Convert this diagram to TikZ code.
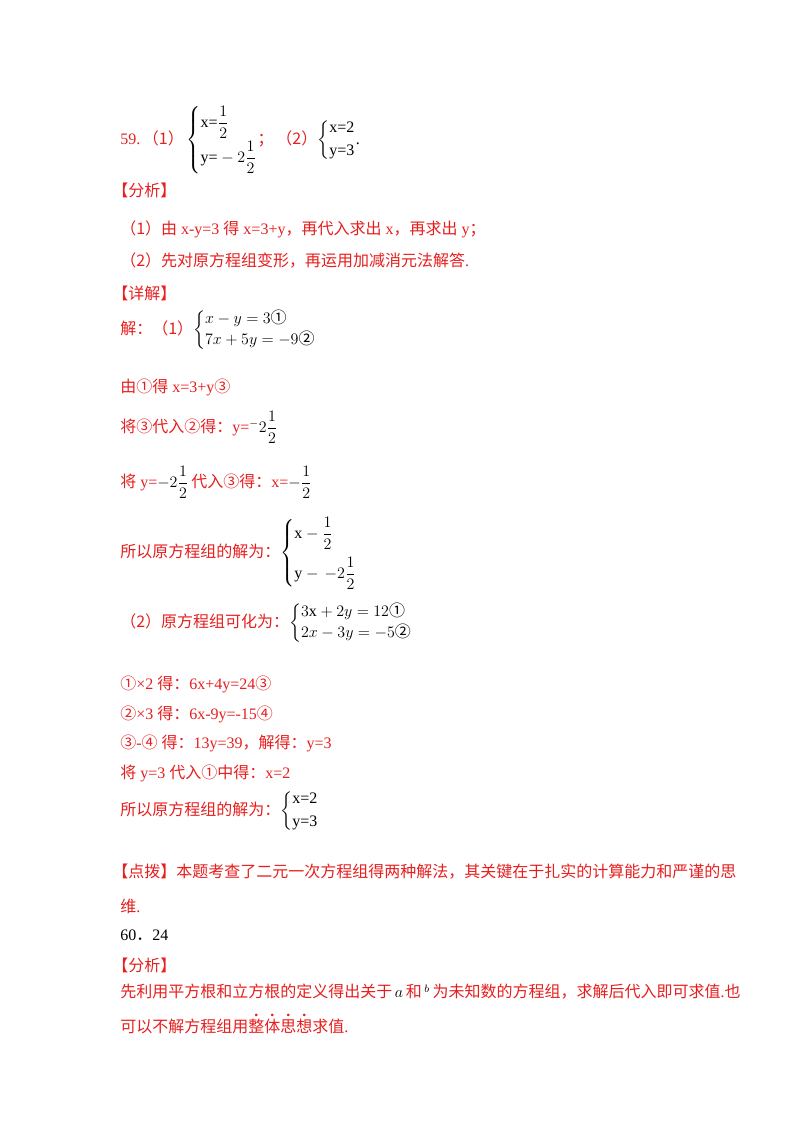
\documentclass[tikz,border=0pt]{standalone}
\usepackage{amsmath}
\usepackage{fontspec}
\setmainfont{Liberation Serif}
\newfontfamily\cjk{Noto Sans CJK SC}
\newcommand\zh[1]{{\cjk #1}}
\newcommand\emdot[1]{\zh{#1}\makebox[0pt][r]{\makebox[1em][c]{\raisebox{0.95em}{\bfseries.}}}}
\definecolor{rd}{RGB}{230,30,30}
\begin{document}
\begin{tikzpicture}[x=0.75pt,y=-0.75pt,
  t/.style={anchor=west,inner sep=0pt,font=\fontsize{12}{14}\selectfont},
  r/.style={t,text=rd}]
\useasboundingbox (0,0) rectangle (800,1132);
\node[t] (q59) at (120,140) {\textcolor{rd}{59.\,\zh{（1）}}\,$\left\{\begin{array}{@{}l@{}}\text{x=}\dfrac{1}{2}\\[6pt] \text{y=}-2\dfrac{1}{2}\end{array}\right.$\textcolor{rd}{\zh{；}}\,\textcolor{rd}{\zh{（2）}}$\left\{\begin{array}{@{}l@{}}\text{x=2}\\[3pt] \text{y=3}\end{array}\right.$.};
\node[r] (fx1) at (112,190) {\zh{【分析】}};
\node[r] (a1) at (120,229) {\zh{（1）由} x-y=3 \zh{得} x=3+y\zh{，再代入求出} x\zh{，再求出} y\zh{；}};
\node[r] (a2) at (120,261) {\zh{（2）先对原方程组变形，再运用加减消元法解答}.};
\node[r] (xj) at (112,293) {\zh{【详解】}};
\node[t] (s1) at (120,330) {\textcolor{rd}{\zh{解：（1）}}$\left\{\begin{array}{@{}l@{}}x-y=3\text{\zh{①}}\\[2pt] 7x+5y=-9\text{\zh{②}}\end{array}\right.$};
\node[r] (b1) at (120,387) {\zh{由①得} x=3+y\zh{③}};
\node[r] (b2) at (120,427) {\zh{将③代入②得：}y=\textcolor{black}{$^{-}2\dfrac{1}{2}$}};
\node[r] (b3) at (120,482) {\zh{将} y=\textcolor{black}{$-2\dfrac{1}{2}$}\,\zh{代入③得：}x=\textcolor{black}{$-\dfrac{1}{2}$}};
\node[t] (b4) at (120,553) {\textcolor{rd}{\zh{所以原方程组的解为：}}$\left\{\begin{array}{@{}l@{}}\text{x}-\dfrac{1}{2}\\[10pt] \text{y}-\,-2\dfrac{1}{2}\end{array}\right.$};
\node[t] (c0) at (120,623) {\textcolor{rd}{\zh{（2）原方程组可化为：}}$\left\{\begin{array}{@{}l@{}}3\mathrm{x}+2y=12\text{\zh{①}}\\[2pt] 2x-3y=-5\text{\zh{②}}\end{array}\right.$};
\node[r] (c1) at (120,684) {\zh{①}×2 \zh{得：}6x+4y=24\zh{③}};
\node[r] (c2) at (120,714) {\zh{②}×3 \zh{得：}6x-9y=-15\zh{④}};
\node[r] (c3) at (120,743) {\zh{③}-\zh{④} \zh{得：}13y=39\zh{，解得：}y=3};
\node[r] (c4) at (120,773) {\zh{将} y=3 \zh{代入①中得：}x=2};
\node[t] (c5) at (120,811) {\textcolor{rd}{\zh{所以原方程组的解为：}}$\left\{\begin{array}{@{}l@{}}\text{x=2}\\[3pt] \text{y=3}\end{array}\right.$};
\node[r] (d1) at (112,872) {\zh{【点拨】本题考查了二元一次方程组得两种解法，其关键在于扎实的计算能力和严谨的思}};
\node[r] (d2) at (120,906) {\zh{维}.};
\node[t] (q60) at (120,935) {60\zh{．}24};
\node[r] (fx2) at (112,965) {\zh{【分析】}};
\node[r] (e1) at (120,992) {\zh{先利用平方根和立方根的定义得出关于}\,\textcolor{black}{$a$}\,\zh{和}\,\textcolor{black}{$^{b}$}\,\zh{为未知数的方程组，求解后代入即可求值}.\zh{也}};
\node[r] (e2) at (120,1024) {\zh{可以不解方程组用}\emdot{整}\emdot{体}\emdot{思}\emdot{想}\zh{求值}.};
\end{tikzpicture}
\end{document}
